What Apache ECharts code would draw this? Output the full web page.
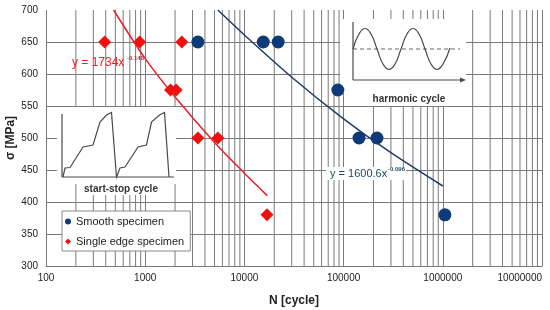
<!DOCTYPE html>
<html>
<head>
<meta charset="utf-8">
<script src="https://cdn.jsdelivr.net/npm/echarts@6/dist/echarts.min.js"></script>
<style>
  html, body { margin: 0; padding: 0; background: #fff; }
  #chart { width: 550px; height: 310px; }
</style>
</head>
<body>
<div id="chart"></div>
<script>
// measured points
const smoothN = [3400, 15500, 21900, 87500, 143000, 217000, 1050000];
const smoothS = [650, 650, 650, 575, 500, 500, 380];
const edgeN = [390, 880, 2340, 1800, 2050, 3400, 5400, 16900];
const edgeS = [650, 650, 650, 575, 575, 500, 500, 380];

// trend lines
const edgeFitN = [480, 1000, 2000, 5000, 10000, 17000];
const edgeFitS = [700, 624, 564, 493, 445, 410];
const smoothFitN = [5400, 10000, 30000, 100000, 300000, 1000000];
const smoothFitS = [700, 661, 595, 530, 477, 425];

// minor log grid positions
const decades = [100, 1000, 10000, 100000, 1000000];
const mantissas = [2, 3, 4, 5, 6, 7, 8, 9];

const GRID = '#7a7a7a';
const NAVY = '#0d3a78';
const RED = '#f01010';
const FONT = 'Liberation Sans';

const pairs = (xs, ys) => xs.map((x, i) => [x, ys[i]]);

// vertical minor grid lines as broken line segments
const minorData = [];
decades.forEach(d => {
  mantissas.forEach(m => {
    minorData.push([d * m, 300], [d * m, 700], [d * m, null]);
  });
});

const chart = echarts.init(document.getElementById('chart'));

const ink = { stroke: '#4a4a4a', fill: null, lineWidth: 1.2 };

const option = {
  animation: false,
  grid: { left: 46, right: 8, top: 10, bottom: 44, outerBoundsMode: 'none', containLabel: false },
  legend: {
    orient: 'vertical',
    left: 62,
    top: 211,
    padding: [5, 6, 4, 3],
    itemGap: 9,
    itemWidth: 6,
    itemHeight: 6,
    backgroundColor: '#fff',
    borderColor: '#888',
    borderWidth: 1,
    borderRadius: 0,
    textStyle: { fontFamily: FONT, fontSize: 11, color: '#222' },
    data: [
      { name: 'Smooth specimen', icon: 'circle' },
      { name: 'Single edge specimen', icon: 'diamond' }
    ]
  },
  xAxis: {
    type: 'log',
    logBase: 10,
    min: 100,
    max: 10000000,
    name: 'N [cycle]',
    nameLocation: 'middle',
    nameGap: 29,
    nameMoveOverlap: false,
    nameTextStyle: { fontFamily: FONT, fontSize: 12, fontWeight: 'bold', color: '#222' },
    axisLine: { lineStyle: { color: GRID } },
    axisTick: { show: false },
    axisLabel: {
      fontFamily: FONT, fontSize: 10, color: '#222', margin: 7,
      alignMaxLabel: 'right',
      formatter: v => String(Math.round(v))
    },
    splitLine: { show: true, lineStyle: { color: GRID, width: 1 } }
  },
  yAxis: {
    type: 'value',
    min: 300,
    max: 700,
    interval: 50,
    name: 'σ [MPa]',
    nameLocation: 'middle',
    nameGap: 29,
    nameMoveOverlap: false,
    nameTextStyle: { fontFamily: FONT, fontSize: 12, fontWeight: 'bold', color: '#222' },
    axisLine: { show: false },
    axisTick: { show: false },
    axisLabel: { fontFamily: FONT, fontSize: 10, color: '#222', margin: 8 },
    splitLine: { show: true, showMaxLine: false, lineStyle: { color: GRID, width: 1 } }
  },
  graphic: [
    // start-stop inset
    { type: 'rect', z: 5, shape: { x: 57, y: 107, width: 119, height: 77 }, style: { fill: '#fff' } },
    { type: 'rect', z: 5, shape: { x: 77, y: 183, width: 97, height: 12 }, style: { fill: '#fff' } },
    { type: 'line', z: 6, shape: { x1: 62, y1: 177, x2: 62, y2: 114 }, style: ink },
    { type: 'line', z: 6, shape: { x1: 62, y1: 177, x2: 174, y2: 177 }, style: ink },
    {
      type: 'polyline', z: 6,
      shape: { points: [
        [63, 177], [65, 168], [70, 167.5], [83, 147], [93, 145], [100, 122], [106.5, 115], [111.5, 112.5], [116.5, 177],
        [120, 168], [125, 167], [138, 147], [146.5, 145], [151.5, 122], [159.5, 115], [164.5, 112.5], [169, 177]
      ] },
      style: ink
    },
    { type: 'text', z: 6, x: 121, y: 189, style: { text: 'start-stop cycle', fill: '#333', font: 'bold 10px ' + FONT, textAlign: 'center', textVerticalAlign: 'middle' } },

    // harmonic inset
    { type: 'rect', z: 5, shape: { x: 340, y: 19, width: 126, height: 74 }, style: { fill: '#fff' } },
    { type: 'rect', z: 5, shape: { x: 368, y: 92, width: 84, height: 14 }, style: { fill: '#fff' } },
    { type: 'line', z: 6, shape: { x1: 353, y1: 80, x2: 353, y2: 22 }, style: ink },
    { type: 'line', z: 6, shape: { x1: 353, y1: 80, x2: 462, y2: 80 }, style: ink },
    { type: 'polygon', z: 6, shape: { points: [[466, 80], [460, 77.5], [460, 82.5]] }, style: { fill: '#4a4a4a' } },
    { type: 'line', z: 6, shape: { x1: 353, y1: 49, x2: 460, y2: 49 }, style: { stroke: '#666', lineWidth: 1, lineDash: [4, 3] } },
    {
      type: 'polyline', z: 6,
      shape: { smooth: 0.5, points: [
        [353, 49], [359, 34], [365, 28.5], [371, 34], [377, 49], [383, 64], [389, 69.5], [395, 64],
        [401, 49], [407, 34], [413, 28.5], [419, 34], [425, 49], [431, 64], [437, 69.5], [443, 64], [450, 48]
      ] },
      style: ink
    },
    { type: 'text', z: 6, x: 409, y: 99, style: { text: 'harmonic cycle', fill: '#333', font: 'bold 10px ' + FONT, textAlign: 'center', textVerticalAlign: 'middle' } },

    // fit equations
    { type: 'text', z: 6, x: 72, y: 63, style: { text: 'y = 1734x', fill: '#e8202a', font: '12px ' + FONT, textAlign: 'left', textVerticalAlign: 'middle' } },
    { type: 'text', z: 6, x: 127, y: 58, style: { text: '-0.148', fill: '#e8202a', font: 'bold 6px ' + FONT, textAlign: 'left', textVerticalAlign: 'middle' } },
    { type: 'rect', z: 5, shape: { x: 326, y: 167, width: 80, height: 13 }, style: { fill: '#fff' } },
    { type: 'text', z: 6, x: 330, y: 174, style: { text: 'y = 1600.6x', fill: '#1d4a5e', font: '11px ' + FONT, textAlign: 'left', textVerticalAlign: 'middle' } },
    { type: 'text', z: 6, x: 388, y: 169, style: { text: '-0.096', fill: '#1d4a5e', font: 'bold 6px ' + FONT, textAlign: 'left', textVerticalAlign: 'middle' } }
  ],
  series: [
    {
      name: 'minor grid',
      type: 'line',
      z: 1,
      silent: true,
      symbol: 'none',
      connectNulls: false,
      lineStyle: { color: GRID, width: 1 },
      data: minorData
    },
    {
      name: 'Single edge fit',
      type: 'line',
      z: 8,
      symbol: 'none',
      smooth: 0.3,
      lineStyle: { color: '#e8202a', width: 1.5 },
      data: pairs(edgeFitN, edgeFitS)
    },
    {
      name: 'Smooth fit',
      type: 'line',
      z: 8,
      symbol: 'none',
      smooth: 0.3,
      lineStyle: { color: '#1f3a68', width: 1.5 },
      data: pairs(smoothFitN, smoothFitS)
    },
    {
      name: 'Smooth specimen',
      type: 'scatter',
      z: 10,
      symbol: 'circle',
      symbolSize: 13,
      itemStyle: { color: NAVY, opacity: 1 },
      data: pairs(smoothN, smoothS)
    },
    {
      name: 'Single edge specimen',
      type: 'scatter',
      z: 10,
      symbol: 'diamond',
      symbolSize: 13,
      itemStyle: { color: RED, opacity: 1 },
      data: pairs(edgeN, edgeS)
    }
  ]
};

chart.setOption(option);
</script>
</body>
</html>
